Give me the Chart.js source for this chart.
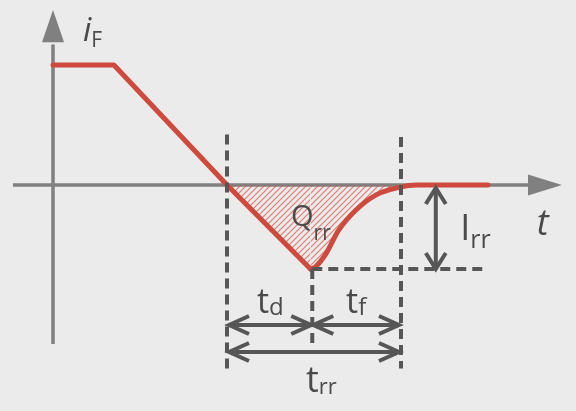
<!DOCTYPE html>
<html>
<head>
<meta charset="utf-8">
<script src="https://cdn.jsdelivr.net/npm/chart.js@4.4.1/dist/chart.umd.min.js"></script>
<style>
  html, body { margin: 0; padding: 0; background: #ebebeb; }
  #wrap { width: 576px; height: 411px; }
  canvas { display: block; }
</style>
</head>
<body>
<div id="wrap"><canvas id="c" width="576" height="411"></canvas></div>
<script>
// ---- data (time in arbitrary units, current normalised to I_F = 1) ----
const fallT = [0, 3.5, 10, 14.8];
const fallI = [1, 1, 0, -0.7];
const recT  = [14.8, 15.1, 15.7, 16.4, 17.4, 18.6, 19.9, 20.9, 25];
const recI  = [-0.7, -0.68, -0.57, -0.38, -0.21, -0.08, -0.02, 0, 0];
const tMarks = [10, 14.9, 20];      // zero crossing, peak reverse current, end of recovery
const iLevels = [1, -0.7];          // I_F, -I_rr
const labelMain = ['i', 't', 'Q', 'I', 't', 't', 't'];
const labelSub  = ['F', '',  'rr', 'rr', 'd', 'f', 'rr'];

// ---- hatch pattern ----
function makeHatch() {
  const s = 6;
  const c = document.createElement('canvas');
  c.width = s; c.height = s;
  const g = c.getContext('2d');
  g.strokeStyle = 'rgba(214,78,68,0.7)';
  g.lineWidth = 1.2;
  g.beginPath();
  g.moveTo(-1, s + 1); g.lineTo(s + 1, -1);
  g.moveTo(-1, 1); g.lineTo(1, -1);
  g.moveTo(s - 1, s + 1); g.lineTo(s + 1, s - 1);
  g.stroke();
  return g.createPattern(c, 'repeat');
}
const hatch = makeHatch();
const RED = '#cf4a3e';
const AXIS = '#808080';
const DARK = '#565656';
const TEXT = '#4a4a4a';

const pts = (ts, is) => ts.map((t, k) => ({ x: t, y: is[k] }));

const bgPlugin = {
  id: 'bg',
  beforeDraw(chart) {
    const ctx = chart.ctx;
    ctx.save();
    ctx.fillStyle = '#ebebeb';
    ctx.fillRect(0, 0, chart.width, chart.height);
    ctx.restore();
  }
};

function scalesOf(chart) {
  const xs = chart.scales.x, ys = chart.scales.y;
  return [v => xs.getPixelForValue(v), v => ys.getPixelForValue(v)];
}

const axesPlugin = {
  id: 'axesDraw',
  beforeDatasetsDraw(chart) {
    const ctx = chart.ctx;
    const [X, Y] = scalesOf(chart);
    ctx.save();
    ctx.strokeStyle = AXIS;
    ctx.fillStyle = AXIS;
    ctx.lineWidth = 3.5;
    // x axis
    ctx.beginPath();
    ctx.moveTo(X(-2.3), Y(0));
    ctx.lineTo(X(27.6), Y(0));
    ctx.stroke();
    ctx.beginPath();
    ctx.moveTo(X(27.3), Y(0) - 10.5);
    ctx.lineTo(X(29.25), Y(0));
    ctx.lineTo(X(27.3), Y(0) + 10.5);
    ctx.closePath();
    ctx.fill();
    // y axis
    ctx.beginPath();
    ctx.moveTo(X(0), Y(-1.325));
    ctx.lineTo(X(0), Y(1.17));
    ctx.stroke();
    ctx.beginPath();
    ctx.moveTo(X(0) - 11, Y(1.19));
    ctx.lineTo(X(0), Y(1.458));
    ctx.lineTo(X(0) + 11, Y(1.19));
    ctx.closePath();
    ctx.fill();
    ctx.restore();
  }
};

function chevron(ctx, tx, ty, dx, dy) {
  // tip at (tx,ty); legs go back by (dx, +-dy) along axis direction
  ctx.beginPath();
  ctx.moveTo(tx + dx.a, ty + dy.a);
  ctx.lineTo(tx, ty);
  ctx.lineTo(tx + dx.b, ty + dy.b);
  ctx.stroke();
}

function hArrow(ctx, x1, x2, y) {
  ctx.beginPath();
  ctx.moveTo(x1 + 2, y); ctx.lineTo(x2 - 2, y);
  ctx.stroke();
  chevron(ctx, x1, y, { a: 20, b: 20 }, { a: -9, b: 9 });
  chevron(ctx, x2, y, { a: -20, b: -20 }, { a: -9, b: 9 });
}
function vArrow(ctx, x, y1, y2) {
  ctx.beginPath();
  ctx.moveTo(x, y1 + 2); ctx.lineTo(x, y2 - 2);
  ctx.stroke();
  chevron(ctx, x, y1, { a: -10, b: 10 }, { a: 16, b: 16 });
  chevron(ctx, x, y2, { a: -10, b: 10 }, { a: -16, b: -16 });
}

function subText(ctx, main, sub, x, y, mainFont, subFont, subY) {
  ctx.font = mainFont;
  ctx.fillText(main, x, y);
  const w = ctx.measureText(main).width;
  if (sub) {
    ctx.font = subFont;
    ctx.fillText(sub, x + w, subY);
  }
}

const overlayPlugin = {
  id: 'overlay',
  afterDatasetsDraw(chart) {
    const ctx = chart.ctx;
    const [X, Y] = scalesOf(chart);
    const [t0, tp, te] = tMarks;
    const [iF, iR] = iLevels;
    ctx.save();
    // dashed guides
    ctx.strokeStyle = DARK;
    ctx.lineWidth = 4;
    ctx.setLineDash([10, 6]);
    ctx.beginPath();
    ctx.moveTo(X(t0), Y(0.42)); ctx.lineTo(X(t0), Y(-1.53));
    ctx.moveTo(X(te), Y(0.40)); ctx.lineTo(X(te), Y(-1.53));
    ctx.stroke();
    ctx.beginPath();
    ctx.moveTo(X(tp), Y(iR)); ctx.lineTo(X(tp), Y(-1.335));
    ctx.stroke();
    ctx.beginPath();
    ctx.moveTo(X(tp), Y(iR)); ctx.lineTo(X(24.8), Y(iR));
    ctx.stroke();
    ctx.setLineDash([]);

    // dimension arrows
    ctx.lineWidth = 4;
    ctx.lineCap = 'butt';
    ctx.lineJoin = 'miter';
    vArrow(ctx, X(22.0), Y(0) + 3, Y(iR));
    hArrow(ctx, X(t0) + 2, X(tp) - 1, Y(-1.167));
    hArrow(ctx, X(tp) + 1, X(te) - 2, Y(-1.167));
    hArrow(ctx, X(t0) + 2, X(te) - 2, Y(-1.392));

    // labels
    ctx.fillStyle = TEXT;
    ctx.textAlign = 'left';
    ctx.textBaseline = 'alphabetic';
    const F = '"Open Sans", "Noto Sans", sans-serif';
    subText(ctx, labelMain[0], labelSub[0], X(1.72), Y(1.2),
      'italic 33px ' + F, '21px ' + F, Y(1.15));
    subText(ctx, labelMain[1], labelSub[1], X(27.8), Y(-0.417),
      'italic 36px ' + F, '', 0);
    subText(ctx, labelMain[2], labelSub[2], X(13.68), Y(-0.342),
      '29px ' + F, '21px ' + F, Y(-0.458));
    subText(ctx, labelMain[3], labelSub[3], X(23.4), Y(-0.458),
      '36px ' + F, '25px ' + F, Y(-0.525));
    subText(ctx, labelMain[4], labelSub[4], X(11.72), Y(-1.067),
      '34px ' + F, '24px ' + F, Y(-1.083));
    subText(ctx, labelMain[5], labelSub[5], X(16.84), Y(-1.067),
      '34px ' + F, '24px ' + F, Y(-1.083));
    subText(ctx, labelMain[6], labelSub[6], X(14.54), Y(-1.725),
      '36px ' + F, '22px ' + F, Y(-1.742));
    ctx.restore();
  }
};

const fillOpt = { target: 'origin', above: 'rgba(0,0,0,0)', below: hatch };

new Chart(document.getElementById('c'), {
  type: 'line',
  data: {
    datasets: [
      {
        data: pts(fallT, fallI),
        borderColor: RED, borderWidth: 5, pointRadius: 0, tension: 0,
        borderJoinStyle: 'round', borderCapStyle: 'round',
        fill: fillOpt
      },
      {
        data: pts(recT, recI),
        borderColor: RED, borderWidth: 5, pointRadius: 0,
        cubicInterpolationMode: 'monotone',
        borderJoinStyle: 'round', borderCapStyle: 'round',
        fill: fillOpt
      }
    ]
  },
  options: {
    responsive: false,
    devicePixelRatio: 1,
    animation: false,
    layout: { padding: 0 },
    plugins: { legend: { display: false }, tooltip: { enabled: false } },
    scales: {
      x: { type: 'linear', display: false, min: -53 / 17.4, max: 523 / 17.4 },
      y: { type: 'linear', display: false, min: -226 / 120, max: 185 / 120 }
    }
  },
  plugins: [bgPlugin, axesPlugin, overlayPlugin]
});
</script>
</body>
</html>
